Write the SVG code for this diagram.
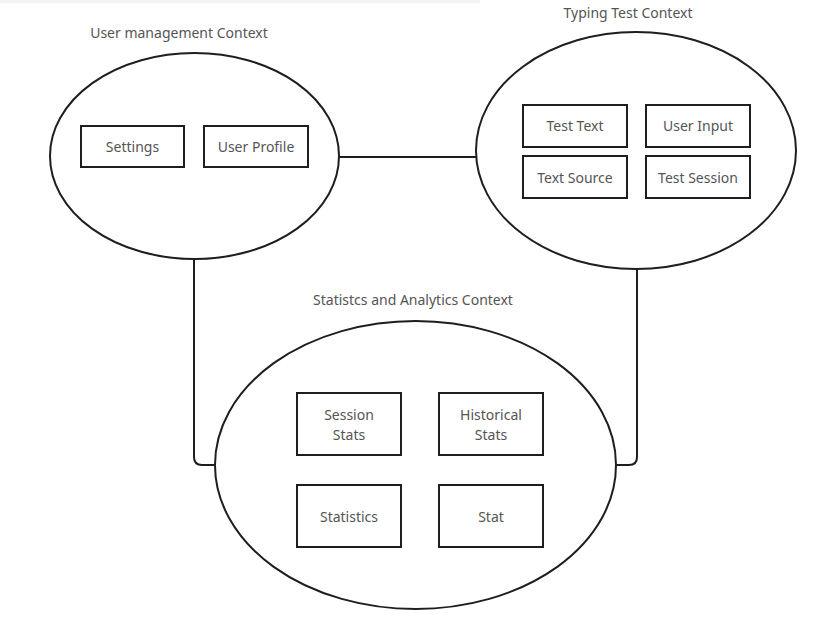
<svg xmlns="http://www.w3.org/2000/svg" width="822" height="630" viewBox="0 0 822 630">
<style>
.ctx{fill:#fff;stroke:#1e1e1e;stroke-width:2}
.box{fill:#fff;stroke:#1e1e1e;stroke-width:2}
.conn{fill:none;stroke:#1e1e1e;stroke-width:2}
text{font-family:"Noto Sans","Open Sans",sans-serif;font-size:14px;fill:#555;text-anchor:middle}
</style>
<rect x="0" y="0" width="480" height="3" fill="#f3f3f3"/>
<g id="connectors">
<line class="conn" x1="339" y1="157" x2="477" y2="157"/>
<path class="conn" d="M194 259 V457 Q194 465 202 465 H216"/>
<path class="conn" d="M637 269 V457 Q637 465 629 465 H615"/>
</g>
<g id="user-management">
<text x="179" y="38">User management Context</text>
<ellipse class="ctx" cx="194.5" cy="156" rx="144.5" ry="103"/>
<g id="settings"><rect class="box" x="81" y="126" width="103" height="41"/><text x="132.5" y="152">Settings</text></g>
<g id="user-profile"><rect class="box" x="204" y="126" width="104" height="41"/><text x="256" y="152">User Profile</text></g>
</g>
<g id="typing-test">
<text x="628" y="18">Typing Test Context</text>
<ellipse class="ctx" cx="636" cy="150.5" rx="160" ry="118.5"/>
<g id="test-text"><rect class="box" x="523" y="105" width="104" height="42"/><text x="575" y="131">Test Text</text></g>
<g id="user-input"><rect class="box" x="646" y="105" width="104" height="42"/><text x="698" y="131">User Input</text></g>
<g id="text-source"><rect class="box" x="523" y="156" width="104" height="42"/><text x="575" y="183">Text Source</text></g>
<g id="test-session"><rect class="box" x="646" y="156" width="104" height="42"/><text x="698" y="183">Test Session</text></g>
</g>
<g id="statistics-analytics">
<text x="413" y="305">Statistcs and Analytics Context</text>
<ellipse class="ctx" cx="415.5" cy="465" rx="200.5" ry="144"/>
<g id="session-stats"><rect class="box" x="297" y="393" width="104" height="62"/><text x="349" y="420">Session</text><text x="349" y="440">Stats</text></g>
<g id="historical-stats"><rect class="box" x="439" y="393" width="104" height="62"/><text x="491" y="420">Historical</text><text x="491" y="440">Stats</text></g>
<g id="statistics"><rect class="box" x="297" y="485" width="104" height="62"/><text x="349" y="522">Statistics</text></g>
<g id="stat"><rect class="box" x="439" y="485" width="104" height="62"/><text x="491" y="522">Stat</text></g>
</g>
</svg>
